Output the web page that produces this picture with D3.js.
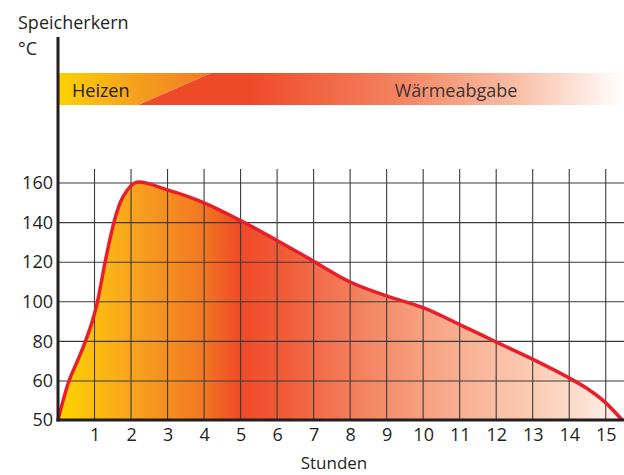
<!DOCTYPE html>
<html>
<head>
<meta charset="utf-8">
<script src="https://cdn.jsdelivr.net/npm/d3@7"></script>
<style>
  html, body { margin: 0; padding: 0; background: #fff; }
  svg { display: block; font-family: "Open Sans", "Noto Sans", sans-serif; }
</style>
</head>
<body>
<svg id="chart" width="624" height="475"></svg>
<script>
// Storage core temperature over the hours of a heating / heat-release cycle
const hours = [0, 0.3, 0.53, 0.75, 1, 1.08, 1.29, 1.53, 1.7, 1.9, 2.2, 3, 4, 5, 6, 7, 8, 9, 10, 11, 12, 13, 14, 14.5, 15, 15.45];
const temps = [50, 60, 70, 80, 94, 100, 120, 140, 150, 156.5, 160.5, 156.5, 150, 141, 131, 120.5, 110, 103, 97, 88.5, 79.7, 71, 61.5, 58, 54.4, 50];

const xTicks = [1, 2, 3, 4, 5, 6, 7, 8, 9, 10, 11, 12, 13, 14, 15];
const yTicks = [50, 60, 80, 100, 120, 140, 160];
const yGrid = [60, 80, 100, 120, 140, 160];

// Phase band: heating ends on a slant between these two hours
const phaseLabels = ["Heizen", "Wärmeabgabe"];
const heatEndBottom = 2.2;
const heatEndTop = 4.2;

const svg = d3.select("#chart");
const left = 58, right = 624, bottom = 420;

const x = d3.scaleLinear().domain([0, 15.5]).range([left, right]);
// axis starts at 50 with a shortened first step
const y = d3.scaleLinear().domain([50, 60, 160]).range([bottom, 381, 183]);

const defs = svg.append("defs");

function hGrad(id, stops) {
  const g = defs.append("linearGradient").attr("id", id)
    .attr("gradientUnits", "userSpaceOnUse")
    .attr("x1", left).attr("x2", right).attr("y1", 0).attr("y2", 0);
  stops.forEach(([o, c]) => g.append("stop").attr("offset", o).attr("stop-color", c));
}
const px = v => (v - left) / (right - left);

hGrad("areaGrad", [
  [0, "#FFD400"], [px(130), "#F8A51E"], [px(200), "#F27A22"], [px(240), "#EF4A27"],
  [px(280), "#F05A35"], [px(349), "#F37C5A"], [px(422), "#F6A07F"],
  [px(495), "#F9BDA1"], [px(568), "#FCD9C7"], [1, "#FFF4EE"]
]);
hGrad("heatGrad", [
  [0, "#FFD200"], [px(135), "#F6A01F"], [px(212), "#F07A22"], [1, "#F07A22"]
]);
hGrad("releaseGrad", [
  [0, "#EF4A28"], [px(250), "#EF4A28"], [px(400), "#F48462"],
  [px(520), "#F9C0A8"], [1, "#FFFFFF"]
]);

// phase band
const bandTop = 73, bandBottom = 105;
svg.append("polygon")
  .attr("points", [[left, bandTop], [x(heatEndTop), bandTop], [x(heatEndBottom), bandBottom], [left, bandBottom]].join(" "))
  .attr("fill", "url(#heatGrad)");
svg.append("polygon")
  .attr("points", [[x(heatEndTop), bandTop], [right, bandTop], [right, bandBottom], [x(heatEndBottom), bandBottom]].join(" "))
  .attr("fill", "url(#releaseGrad)");
svg.append("text").attr("x", 72).attr("y", 97)
  .attr("font-size", 18).attr("fill", "#231F20").text(phaseLabels[0]);
svg.append("text").attr("x", 456).attr("y", 97).attr("text-anchor", "middle")
  .attr("font-size", 18).attr("fill", "#3a3536").text(phaseLabels[1]);

// area under the curve
const pts = hours.map((h, i) => [h, temps[i]]);
const area = d3.area().x(d => x(d[0])).y0(bottom).y1(d => y(d[1])).curve(d3.curveMonotoneX);
const line = d3.line().x(d => x(d[0])).y(d => y(d[1])).curve(d3.curveMonotoneX);

svg.append("path").datum(pts).attr("d", area).attr("fill", "url(#areaGrad)");

// grid
svg.append("g").selectAll("line").data(yGrid).join("line")
  .attr("x1", left).attr("x2", right)
  .attr("y1", d => y(d)).attr("y2", d => y(d))
  .attr("stroke", "#3b3b3b").attr("stroke-width", 1.1);
svg.append("g").selectAll("line").data(xTicks).join("line")
  .attr("x1", d => x(d)).attr("x2", d => x(d))
  .attr("y1", y(160) - 14).attr("y2", bottom)
  .attr("stroke", "#3b3b3b").attr("stroke-width", 1.1);

// curve
svg.append("path").datum(pts).attr("d", line)
  .attr("fill", "none").attr("stroke", "#E81F2A").attr("stroke-width", 3.5)
  .attr("stroke-linejoin", "round");

// axes
const yAxis = svg.append("g").attr("transform", `translate(${left},0)`)
  .call(d3.axisLeft(y).tickValues(yTicks).tickSize(0).tickPadding(5));
yAxis.select(".domain").remove();
yAxis.selectAll("text").attr("font-size", 18).attr("fill", "#231F20")
  .attr("font-family", "Open Sans, sans-serif");

const xAxis = svg.append("g").attr("transform", `translate(0,${bottom})`)
  .call(d3.axisBottom(x).tickValues(xTicks).tickSize(0).tickPadding(8));
xAxis.select(".domain").remove();
xAxis.selectAll("text").attr("font-size", 18).attr("fill", "#231F20")
  .attr("font-family", "Open Sans, sans-serif");

svg.append("line").attr("x1", left).attr("x2", left).attr("y1", 37).attr("y2", bottom + 1.5)
  .attr("stroke", "#231F20").attr("stroke-width", 3);
svg.append("line").attr("x1", left - 1.5).attr("x2", right).attr("y1", bottom).attr("y2", bottom)
  .attr("stroke", "#231F20").attr("stroke-width", 3);

// titles
svg.append("text").attr("x", 18).attr("y", 29).attr("font-size", 18)
  .attr("fill", "#231F20").text("Speicherkern");
svg.append("text").attr("x", 18).attr("y", 55).attr("font-size", 18)
  .attr("fill", "#231F20").text("°C");
svg.append("text").attr("x", 334).attr("y", 469).attr("text-anchor", "middle")
  .attr("font-size", 17).attr("fill", "#231F20").text("Stunden");
</script>
</body>
</html>
